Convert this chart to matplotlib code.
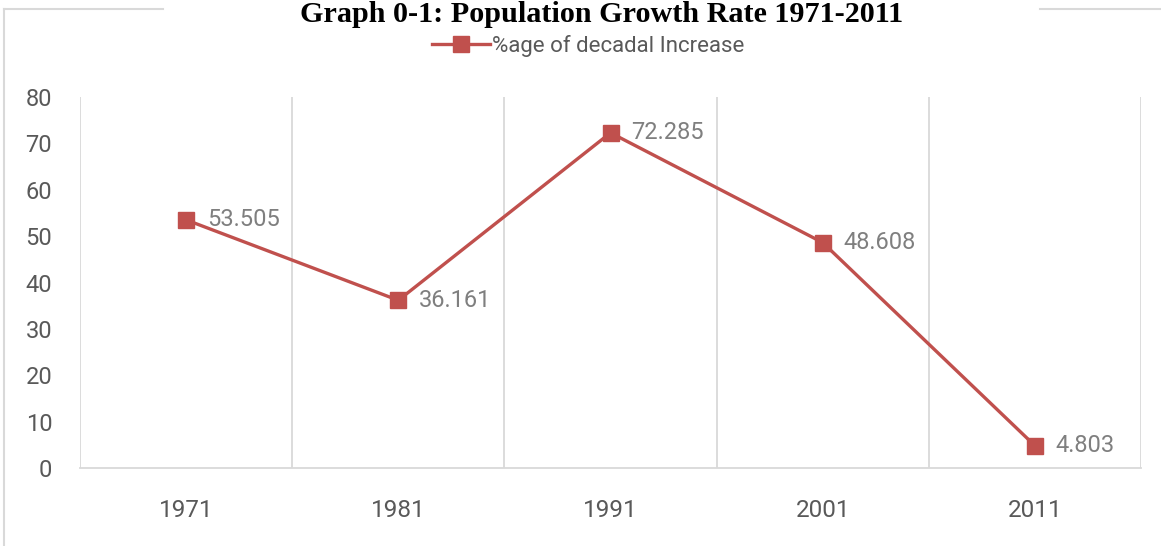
import matplotlib.pyplot as plt
from matplotlib.lines import Line2D

years = ['1971', '1981', '1991', '2001', '2011']
decadal_increase = [53.505, 36.161, 72.285, 48.608, 4.803]
y_ticks = [0, 10, 20, 30, 40, 50, 60, 70, 80]

red = '#C0504D'
grid_col = '#D9D9D9'
label_font = ['Liberation Sans Narrow', 'Roboto', 'DejaVu Sans']

fig = plt.figure(figsize=(11.61, 5.46), dpi=100)
ax = fig.add_axes([0.0689, 0.1429, 0.9139, 0.6794])

x = list(range(len(years)))
ax.plot(x, decadal_increase, color=red, lw=2.4, marker='s', ms=11,
        label='%age of decadal Increase', zorder=3)

for xi, v in zip(x, decadal_increase):
    ax.annotate(f'{v:g}', (xi, v), xytext=(15, 0), textcoords='offset points',
                va='center', ha='left', color='#7F7F7F', fontsize=17,
                family=label_font)

ax.set_xlim(-0.5, len(years) - 0.5)
ax.set_ylim(0, 80)
ax.set_yticks(y_ticks)
ax.set_yticklabels([str(t) for t in y_ticks], family=label_font, fontsize=17, color='#595959')
ax.set_xticks(x)
ax.set_xticklabels(years, family=label_font, fontsize=17.5, color='#595959')
ax.tick_params(length=0)
ax.tick_params(axis='y', pad=20)
ax.tick_params(axis='x', pad=22)

# vertical gridlines between categories
for b in [i - 0.5 for i in range(len(years) + 1)]:
    ax.axvline(b, color=grid_col, lw=1.3, zorder=1)
for s in ['top', 'left', 'right']:
    ax.spines[s].set_visible(False)
ax.spines['bottom'].set_color(grid_col)
ax.spines['bottom'].set_linewidth(1.3)

fig.text(0.518, 0.96, 'Graph 0-1: Population Growth Rate 1971-2011', ha='center', va='baseline',
         fontsize=21.7, fontweight='bold', family='Liberation Serif')
fig.legend(loc='center', bbox_to_anchor=(0.507, 0.916), frameon=False,
           prop={'family': label_font, 'size': 16}, labelcolor='#595959',
           handlelength=2.6, handletextpad=0.1)

# outer chart frame (partially hidden by title)
W, H = 1161, 546
fr = dict(color=grid_col, lw=1.5, transform=fig.transFigure)
fig.add_artist(Line2D([4 / W, 4 / W], [0, 1 - 9 / H], **fr))
fig.add_artist(Line2D([4 / W, 163 / W], [1 - 9 / H, 1 - 9 / H], **fr))
fig.add_artist(Line2D([1040 / W, 1], [1 - 9 / H, 1 - 9 / H], **fr))

fig.savefig('out.png', dpi=100)
